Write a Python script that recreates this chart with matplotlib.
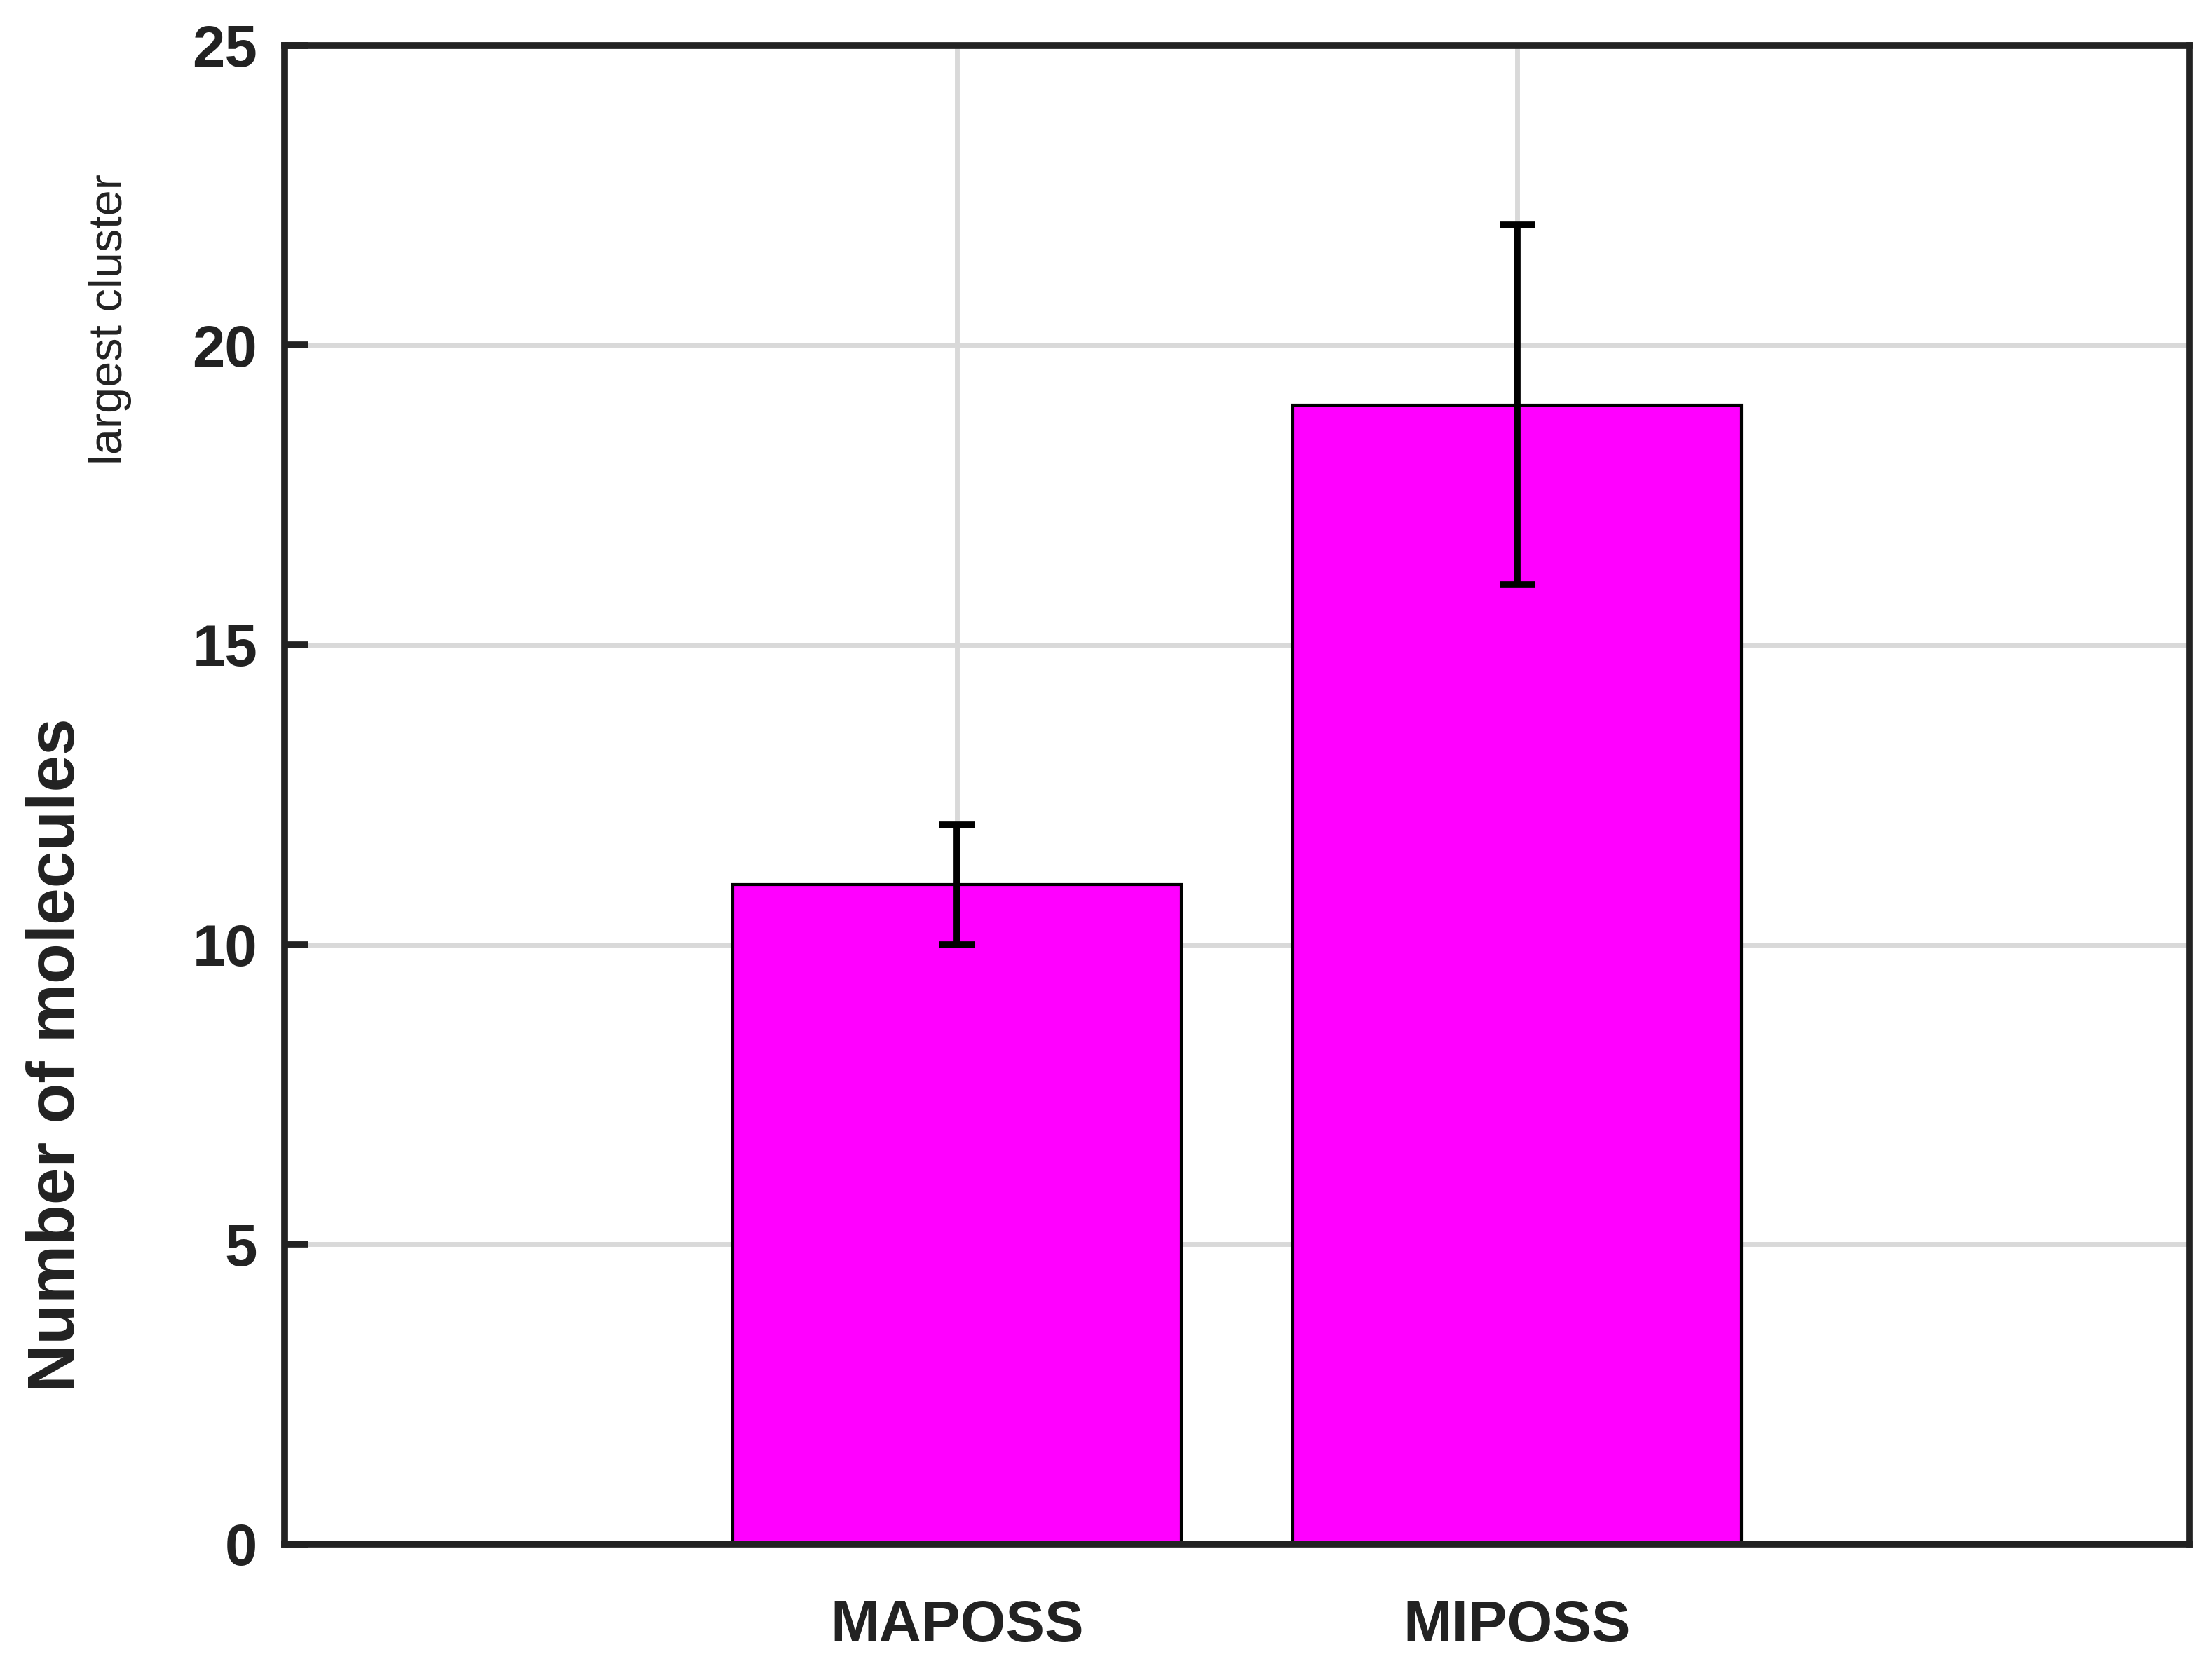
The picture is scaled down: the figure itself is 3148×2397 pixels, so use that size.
import numpy as np
import matplotlib.pyplot as plt

categories = ['MAPOSS', 'MIPOSS']
values = [11, 19]
err_low = [1, 3]
err_high = [1, 3]

fig = plt.figure(figsize=(15.74, 11.985), dpi=200)
ax = fig.add_axes([0.129, 0.081, 0.863, 0.892])

x = np.arange(1, len(categories) + 1)
ax.bar(x, values, width=0.8, color='#ff00ff', edgecolor='black', linewidth=1.5, zorder=2)
ax.errorbar(x, values, yerr=[err_low, err_high], fmt='none', ecolor='black',
            elinewidth=3.5, capsize=9, capthick=3.5, zorder=3)

ax.set_xlim(-0.2, 3.2)
ax.set_ylim(0, 25)
ax.set_xticks(x)
ax.set_xticklabels(categories)
ax.set_yticks([0, 5, 10, 15, 20, 25])
ax.grid(True, color='#d9d9d9', linewidth=2.5, zorder=0)
ax.set_axisbelow(True)
for s in ax.spines.values():
    s.set_linewidth(3.5)
    s.set_color('#222222')
ax.tick_params(direction='in', length=12, width=3.5, labelsize=30, pad=14, colors='#222222')
for lab in ax.get_xticklabels() + ax.get_yticklabels():
    lab.set_fontweight('bold')
    lab.set_fontfamily('Liberation Sans')
ax.tick_params(axis='x', pad=28)

fig.text(0.026, 0.372, 'Number of molecules', rotation=90, ha='center', va='center',
         fontsize=34, fontweight='bold', family='Liberation Sans', color='#222222')
fig.text(0.05, 0.81, 'largest cluster', rotation=90, ha='center', va='center',
         fontsize=24, family='Liberation Sans', color='#222222')

fig.savefig('out.png', dpi=200)
